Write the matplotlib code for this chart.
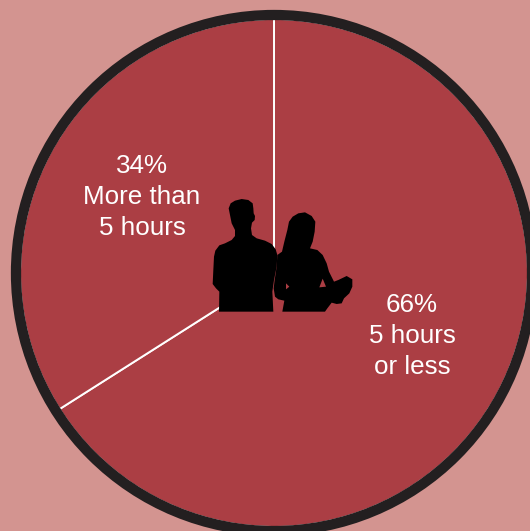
import matplotlib.pyplot as plt
from matplotlib.patches import Circle, Polygon

plt.rcParams['font.family'] = ['Liberation Sans', 'DejaVu Sans']

shares = [66, 34]
labels = ["66%\n5 hours\nor less", "34%\nMore than\n5 hours"]
label_pos = [(412, 336), (142, 197)]

bg = "#d39490"
red = "#ab3e44"
dark = "#231f20"

man = [(87, 395), (88, 335), (78, 325), (68, 312), (70, 270), (72, 230), (76, 212), (88, 196),
       (105, 190), (125, 180), (135, 168), (135, 150), (125, 130), (120, 105), (116, 85),
       (122, 70), (135, 62), (155, 57), (175, 60), (188, 70), (190, 85), (191, 100), (195, 108),
       (194, 120), (186, 128), (183, 145), (186, 165), (200, 175), (225, 182), (245, 192),
       (257, 208), (262, 225), (260, 260), (252, 300), (247, 335), (250, 395)]
woman = [(277, 395), (283, 362), (265, 358), (255, 350), (251, 325), (254, 300), (260, 260),
         (262, 225), (276, 215), (283, 185), (292, 150), (297, 125), (308, 110), (325, 100),
         (345, 97), (365, 108), (376, 125), (374, 155), (368, 185), (360, 205), (382, 210),
         (398, 225), (410, 250), (417, 275), (432, 305), (445, 300), (470, 288), (487, 298),
         (487, 320), (478, 340), (462, 355), (455, 370), (440, 372), (425, 368), (412, 385),
         (405, 395)]
gaps = [[(288, 310), (298, 320), (288, 328)], [(388, 322), (398, 296), (408, 320)]]


def to_px(points):
    return [(190 + x / 3, 180 + y / 3) for x, y in points]


fig = plt.figure(figsize=(5.30, 5.31), dpi=100, facecolor=bg)
ax = fig.add_axes([0, 0, 1, 1])

# y axis is flipped, so counterclock here runs clockwise on screen
ax.pie(shares, center=(274, 273), radius=254, startangle=270, counterclock=True,
       colors=[red, red], wedgeprops={"edgecolor": "white", "linewidth": 1.4})
ax.add_patch(Circle((274, 273), 258, fill=False, edgecolor=dark, linewidth=7.4, zorder=3))

ax.add_patch(Polygon(to_px(man), color="black", lw=0, zorder=4))
ax.add_patch(Polygon(to_px(woman), color="black", lw=0, zorder=4))
for g in gaps:
    ax.add_patch(Polygon(to_px(g), color=red, lw=0, zorder=5))

for txt, (x, y) in zip(labels, label_pos):
    ax.text(x, y, txt, color="white", fontsize=18.7, ha="center", va="center",
            linespacing=1.35, zorder=6)

ax.set_xlim(0, 530)
ax.set_ylim(531, 0)
ax.set_aspect("equal")
ax.axis("off")

fig.savefig("out.png", dpi=100, facecolor=bg)
